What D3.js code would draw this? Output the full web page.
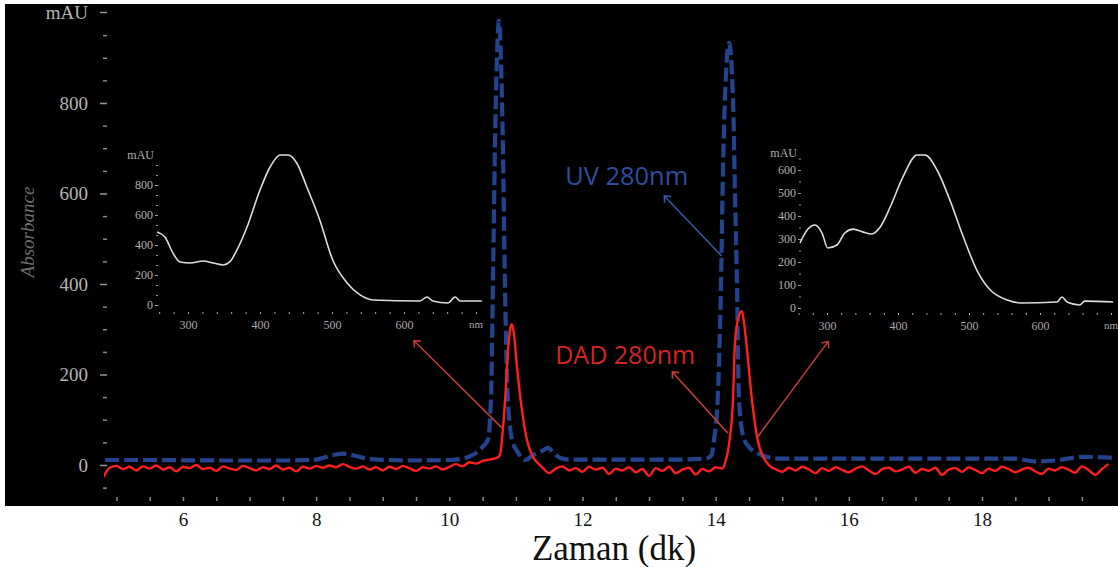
<!doctype html>
<html>
<head>
<meta charset="utf-8">
<script src="https://d3js.org/d3.v7.min.js"></script>
<style>
  body { margin: 0; background: #fff; }
  svg text { font-family: "Liberation Serif", "DejaVu Serif", serif; }
  .ann { font-family: "Open Sans", "Noto Sans", sans-serif; }
</style>
</head>
<body>
<script>
// UV 280nm (blue dashed) - time in min, absorbance in mAU
var uvTime = [4.83, 5.5, 6.5, 7.5, 8.0, 8.2, 8.4, 8.6, 8.8, 9.5, 10.0, 10.2, 10.35, 10.5,
  10.58, 10.625, 10.655, 10.685, 10.715, 10.745, 10.775, 10.805, 10.835, 10.88, 10.94,
  11.03, 11.14, 11.26, 11.4, 11.48, 11.56, 11.66, 11.8, 12.5, 13.0, 13.5, 13.85, 13.94,
  13.97, 14.03, 14.08, 14.11, 14.14, 14.20, 14.26, 14.29, 14.32, 14.35, 14.42, 14.5,
  14.62, 14.77, 14.96, 16.0, 17.0, 18.0, 18.5, 18.79, 19.1, 19.51, 19.95];
var uvMAU = [11, 11, 10, 10, 12, 20, 25, 20, 13, 10, 11, 14, 22, 40,
  56, 144, 400, 700, 900, 982, 900, 700, 400, 144, 56,
  28, 11, 22, 32, 38, 28, 16, 12, 12, 12, 12, 14, 22,
  50, 144, 400, 650, 811, 933, 811, 600, 400, 144, 60, 40,
  27, 18, 14, 14, 14, 14, 14, 8, 10, 18, 16];

// DAD 280nm (red) - noisy baseline read every 0.1 min, plus the two peaks
var dadBaseA = { start: 4.8, values: [-28, -6, -2, -9, -4, -12, -3, -8, -1, -10, -5, -14,
  -4, -7, 0, -9, -6, -13, -3, -8, -11, -2, -7, -12, -5, -9, -1, -10, -6, -14, -4, -8,
  -2, -6, -1, -5, 2, -4, -8, -3, -10, -5, -12, -4, -9, -2, -7, -13, -5, -8, -3, -10,
  -4, 2, -3, 6, 3, 9, 12, 15] };
var dadBaseB = { start: 11.4, values: [-6, -18, -8, -3, -12, -7, -15, -4, -10, -6, -20,
  -8, -12, -5, -16, -9, -24, -7, -13, -4, -18, -10, -6, -21, -9, -14, -5, -8] };
var dadBaseC = { start: 14.9, values: [-9, -15, -6, -12, -4, -10, -18, -7, -13, -5, -11,
  -16, -8, -3, -12, -20, -9, -6, -14, -10, -4, -17, -9, -13, -6, -22, -10, -7, -15, -5,
  -11, -18, -8, -13, -4, -9, -16, -10, -6, -14, -20, -8, -12, -5, -10, -17, -3, -11,
  -22, -9, 2] };
var dadPeakTime = [10.76, 10.80, 10.84, 10.88, 10.92, 10.94, 10.97, 11.015, 11.09, 11.165, 11.255, 11.36,
  14.14, 14.21, 14.26, 14.29, 14.34, 14.395, 14.43, 14.47, 14.545, 14.63, 14.74, 14.84];
var dadPeakMAU = [22, 71, 150, 250, 305, 311, 290, 218, 122, 56, 18, 0,
  4, 56, 144, 271, 325, 340, 310, 256, 144, 56, 11, -5];

// insets: UV-Vis spectra of the two peaks
var spec1Nm  = [257, 268, 279, 289, 303, 321, 335, 349, 358, 368, 382, 400, 414, 428, 439, 451,
  465, 483, 501, 521, 539, 557, 622, 632, 640, 661, 671, 678, 708];
var spec1MAU = [487, 453, 347, 287, 280, 293, 280, 267, 287, 367, 520, 767, 920, 1000, 1000, 947,
  787, 567, 300, 147, 67, 33, 27, 53, 27, 13, 53, 27, 27];
var spec2Nm  = [262, 272, 283, 293, 301, 314, 325, 337, 351, 363, 375, 389, 407, 427, 438, 455,
  473, 492, 511, 530, 554, 572, 624, 631, 638, 656, 663, 703];
var spec2MAU = [283, 339, 361, 326, 261, 274, 326, 343, 330, 322, 352, 439, 570, 665, 665, 600,
  470, 309, 165, 78, 35, 22, 26, 48, 26, 13, 30, 26];

var xTicks = [6, 8, 10, 12, 14, 16, 18];
var yTicks = [0, 200, 400, 600, 800];
var inset1Ticks = [0, 200, 400, 600, 800];
var inset2Ticks = [0, 100, 200, 300, 400, 500, 600];
var nmTicks = [300, 400, 500, 600];

// annotations, in main chart units (min, mAU)
var labels = [
  { text: "UV 280nm", t: 11.74, v: 618, color: "#2d4f9e", len: 123 },
  { text: "DAD 280nm", t: 11.59, v: 224, color: "#d42424", len: 140 }
];
var arrows = [
  { t1: 14.09, v1: 462, t2: 13.24, v2: 593, color: "#3a5aa8" },
  { t1: 10.79, v1: 82, t2: 9.48, v2: 273, color: "#c83a3a" },
  { t1: 14.18, v1: 71, t2: 13.36, v2: 204, color: "#c83a3a" },
  { t1: 14.63, v1: 62, t2: 15.68, v2: 271, color: "#c83a3a" }
];

function grid(seg) {
  return seg.values.map(function(v, i) { return [seg.start + i * 0.1, v]; });
}
var dad = grid(dadBaseA).concat(grid(dadBaseB), grid(dadBaseC),
  dadPeakTime.map(function(t, i) { return [t, dadPeakMAU[i]]; }));
dad.sort(function(a, b) { return a[0] - b[0]; });
var uv = uvTime.map(function(t, i) { return [t, uvMAU[i]]; });

var W = 1118, H = 567;
var svg = d3.select("body").append("svg").attr("width", W).attr("height", H);

svg.append("rect").attr("x", 5).attr("y", 4).attr("width", W - 5).attr("height", 502).attr("fill", "#000");
svg.append("clipPath").attr("id", "plot").append("rect")
  .attr("x", 104).attr("y", 4).attr("width", W - 104).attr("height", 502);

var x = d3.scaleLinear().domain([6, 18]).range([183, 982]);
var y = d3.scaleLinear().domain([0, 800]).range([465, 103]);

// y axis (left)
var ya = svg.append("g").attr("transform", "translate(107,0)")
  .call(d3.axisLeft(y).tickValues(yTicks).tickSize(7).tickPadding(12));
ya.select(".domain").remove();
ya.selectAll("line").attr("stroke", "#9a9a9a").attr("stroke-width", 1.5);
ya.selectAll("text").attr("fill", "#b4b4b4").style("font-size", "19px");
var ym = svg.append("g").attr("transform", "translate(107,0)")
  .call(d3.axisLeft(y).tickValues(d3.range(-50, 1001, 50).filter(function(d) { return d % 200; })).tickSize(4).tickFormat(""));
ym.select(".domain").remove();
ym.selectAll("line").attr("stroke", "#8a8a8a").attr("stroke-width", 1.5);
svg.append("line").attr("x1", 100).attr("x2", 107).attr("y1", y(1000)).attr("y2", y(1000))
  .attr("stroke", "#9a9a9a").attr("stroke-width", 1.5);
svg.append("text").attr("x", 88).attr("y", y(1000)).attr("dy", "0.35em").attr("text-anchor", "end")
  .attr("fill", "#b4b4b4").style("font-size", "19px").text("mAU");

svg.append("text").attr("transform", "translate(27,232) rotate(-90)")
  .attr("text-anchor", "middle").attr("dy", "0.35em")
  .attr("fill", "#6e6e6e").style("font-size", "19px").style("font-style", "italic")
  .text("Absorbance");

// x axis
var xm = svg.append("g").attr("transform", "translate(0,497)")
  .call(d3.axisBottom(x).tickValues(d3.range(5, 20, 0.5)).tickSize(4).tickFormat(""));
xm.select(".domain").remove();
xm.selectAll("line").attr("stroke", "#8a8a8a").attr("stroke-width", 1.5);
var xa = svg.append("g").attr("transform", "translate(0,506)")
  .call(d3.axisBottom(x).tickValues(xTicks).tickSize(0).tickPadding(7));
xa.select(".domain").remove();
xa.selectAll("text").attr("fill", "#111").style("font-size", "19px");

svg.append("text").attr("x", 614).attr("y", 560).attr("text-anchor", "middle")
  .attr("fill", "#111").style("font-size", "35px").text("Zaman (dk)");

// insets
function inset(nm, mau, o) {
  var sx = d3.scaleLinear().domain([300, 400]).range([o.x300, o.x300 + o.per100]);
  var sy = d3.scaleLinear().domain([0, o.top]).range([o.y0, o.yTop]);
  var g = svg.append("g");
  var ay = g.append("g").attr("transform", "translate(" + o.axisX + ",0)")
    .call(d3.axisLeft(sy).tickValues(o.ticks).tickSize(3).tickPadding(2));
  ay.select(".domain").remove();
  ay.selectAll("line").attr("stroke", "#aaa");
  ay.selectAll("text").attr("fill", "#b0b0b0").style("font-size", "12px");
  var aym = g.append("g").attr("transform", "translate(" + o.axisX + ",0)")
    .call(d3.axisLeft(sy).tickValues(d3.range(0, o.max, o.minor)).tickSize(2).tickFormat(""));
  aym.select(".domain").remove();
  aym.selectAll("line").attr("stroke", "#999");
  g.append("text").attr("x", o.axisX - 4).attr("y", o.mauY).attr("text-anchor", "end")
    .attr("dy", "0.35em").attr("fill", "#b0b0b0").style("font-size", "12px").text("mAU");
  var ax = g.append("g").attr("transform", "translate(0," + o.axisY + ")")
    .call(d3.axisBottom(sx).tickValues(d3.range(o.nmStart, o.nmEnd, 20)).tickSize(2).tickFormat(""));
  ax.select(".domain").remove();
  ax.selectAll("line").attr("stroke", "#aaa");
  var al = g.append("g").attr("transform", "translate(0," + (o.axisY + 8) + ")")
    .call(d3.axisBottom(sx).tickValues(nmTicks).tickSize(0).tickPadding(0));
  al.select(".domain").remove();
  al.selectAll("text").attr("fill", "#a8a8a8").style("font-size", "12px");
  g.append("text").attr("x", sx(700)).attr("y", o.axisY + 8).attr("dy", "0.71em")
    .attr("text-anchor", "middle").attr("fill", "#a8a8a8").style("font-size", "11px").text("nm");
  g.append("path").datum(nm.map(function(d, i) { return [d, mau[i]]; }))
    .attr("fill", "none").attr("stroke", "#dcdcdc").attr("stroke-width", 1.6)
    .attr("d", d3.line().x(function(d) { return sx(d[0]); }).y(function(d) { return sy(d[1]); })
      .curve(d3.curveMonotoneX));
}
inset(spec1Nm, spec1MAU, { x300: 188, per100: 72, y0: 305, yTop: 155, top: 1000, axisX: 158,
  ticks: inset1Ticks, max: 1000, minor: 200 / 3, mauY: 155, axisY: 312, nmStart: 260, nmEnd: 711 });
inset(spec2Nm, spec2MAU, { x300: 827, per100: 71, y0: 308, yTop: 147, top: 700, axisX: 801,
  ticks: inset2Ticks, max: 700, minor: 50, mauY: 153, axisY: 313, nmStart: 260, nmEnd: 705 });

// chromatograms
var line = d3.line().x(function(d) { return x(d[0]); }).y(function(d) { return y(d[1]); })
  .curve(d3.curveMonotoneX);
var plot = svg.append("g").attr("clip-path", "url(#plot)");
plot.append("path").datum(uv).attr("fill", "none").attr("stroke", "#24438f")
  .attr("stroke-width", 4.2).attr("stroke-dasharray", "14,5").attr("d", line);
plot.append("path").datum(dad).attr("fill", "none").attr("stroke", "#ff1f1f")
  .attr("stroke-width", 2.4).attr("stroke-linejoin", "round").attr("d", line);

// annotations
var defs = svg.append("defs");
arrows.forEach(function(a, i) {
  defs.append("marker").attr("id", "ah" + i).attr("viewBox", "-6 -6 12 12")
    .attr("markerWidth", 12).attr("markerHeight", 12).attr("markerUnits", "userSpaceOnUse")
    .attr("orient", "auto").append("path").attr("d", "M-4,-4.5 L1,0 L-4,4.5")
    .attr("fill", "none").attr("stroke", a.color).attr("stroke-width", 1.6);
  svg.append("line").attr("x1", x(a.t1)).attr("y1", y(a.v1)).attr("x2", x(a.t2)).attr("y2", y(a.v2))
    .attr("stroke", a.color).attr("stroke-width", 1.5).attr("marker-end", "url(#ah" + i + ")");
});
labels.forEach(function(l) {
  svg.append("text").attr("class", "ann").attr("x", x(l.t)).attr("y", y(l.v))
    .attr("fill", l.color).style("font-size", "26px")
    .attr("textLength", l.len).attr("lengthAdjust", "spacingAndGlyphs").text(l.text);
});
</script>
</body>
</html>
